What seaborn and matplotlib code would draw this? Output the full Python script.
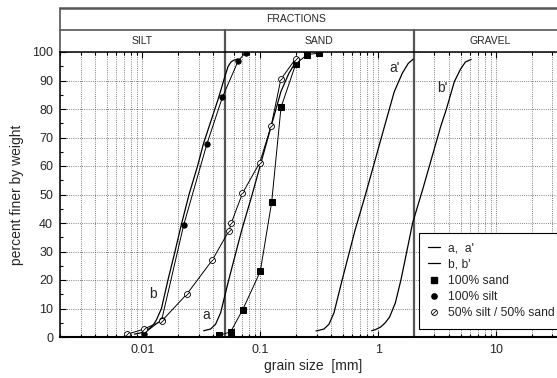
import matplotlib
matplotlib.use("Agg")
import matplotlib.pyplot as plt
import matplotlib.transforms as mtransforms
from matplotlib.lines import Line2D
from matplotlib.path import Path
from matplotlib.ticker import FixedLocator, MultipleLocator, FixedFormatter, NullFormatter
import seaborn as sns

# ---------------- data ----------------
sand_d = [0.045, 0.056, 0.071, 0.1, 0.125, 0.15, 0.2, 0.25, 0.315]
sand_p = [0.6, 1.8, 9.6, 23.0, 47.4, 80.6, 95.8, 99.1, 99.6]

silt_d = [0.0103, 0.0146, 0.0224, 0.0353, 0.0477, 0.065, 0.075]
silt_p = [1.2, 6.1, 39.3, 67.8, 84.1, 96.9, 99.8]

mix_d = [0.0074, 0.0103, 0.0146, 0.024, 0.0392, 0.0543, 0.0569, 0.0706, 0.099, 0.1236, 0.1494, 0.2]
mix_p = [0.9, 2.8, 5.6, 15.2, 27.0, 37.3, 40.1, 50.4, 61.2, 74.0, 90.4, 97.7]

a_d = [0.0331, 0.0379, 0.0418, 0.0461, 0.0539, 0.0696, 0.0847, 0.1181, 0.1494, 0.1748, 0.1966, 0.2169]
a_p = [2.2, 2.8, 4.5, 8.5, 19.9, 37.5, 49.5, 71.0, 86.0, 92.5, 96.0, 97.5]

a2_d = [0.297, 0.347, 0.383, 0.422, 0.494, 0.637, 0.775, 1.082, 1.368, 1.60, 1.80, 1.986]
a2_p = [2.1, 2.8, 4.5, 8.5, 19.9, 37.5, 49.5, 71.0, 86.0, 92.5, 96.0, 97.5]

b_d = [0.00855, 0.0098, 0.0106, 0.01147, 0.0124, 0.01315, 0.01451, 0.01648, 0.0189, 0.02127,
       0.02486, 0.02938, 0.03305, 0.0383, 0.04433, 0.04657, 0.0489, 0.0534, 0.0565, 0.0595, 0.0644]
b_p = [1.0, 1.5, 2.1, 3.0, 4.3, 6.0, 10.0, 20.0, 30.0, 39.0,
       50.0, 60.0, 68.0, 76.0, 84.0, 87.0, 90.0, 95.0, 96.5, 97.1, 97.5]

b2_d = [0.88, 0.95, 1.05, 1.15, 1.25, 1.4, 1.56, 1.75, 1.96, 2.38, 2.9, 3.4, 3.77, 4.43, 5.0, 5.5, 6.15]
b2_p = [2.2, 2.6, 3.5, 5.0, 7.0, 12.0, 20.0, 30.0, 40.0, 51.6, 64.0, 74.0, 79.6, 89.6, 94.0, 96.5, 97.4]

x_ticks = [0.01, 0.1, 1, 10]
x_ticklabels = ["0.01", "0.1", "1", "10"]
y_ticks = list(range(0, 101, 10))
fraction_bounds = [0.05, 2]
fraction_names = ["SILT", "SAND", "GRAVEL"]

# ---------------- figure ----------------
sns.set_style("ticks")
plt.rcParams["font.family"] = ["Liberation Sans", "DejaVu Sans"]

W, H = 557, 378
fig = plt.figure(figsize=(W / 100, H / 100), dpi=100)
ax = fig.add_axes([60 / W, 41 / H, (567 - 60) / W, 285 / H])
ax.set_xscale("log")
ax.set_xlim(0.002, 40)
ax.set_ylim(0, 100)

# grid
grid_kw = dict(color="#555555", lw=0.6, ls=(0, (1, 1.6)))
ax.xaxis.set_major_locator(FixedLocator(x_ticks))
ax.xaxis.set_major_formatter(FixedFormatter(x_ticklabels))
minors = [m * 10.0 ** e for e in range(-3, 2) for m in range(2, 10)]
ax.xaxis.set_minor_locator(FixedLocator(minors))
ax.xaxis.set_minor_formatter(NullFormatter())
ax.yaxis.set_major_locator(FixedLocator(y_ticks))
ax.yaxis.set_minor_locator(MultipleLocator(5))
ax.grid(True, which="major", axis="both", **grid_kw)
ax.xaxis.grid(True, which="minor", **grid_kw)
ax.set_axisbelow(True)

ax.tick_params(which="both", direction="in", top=True, right=True, color="black", width=0.8)
ax.tick_params(which="major", length=4, labelsize=9, pad=5)
ax.tick_params(which="minor", length=2)
for s in ax.spines.values():
    s.set_linewidth(1.1)
    s.set_color("black")
ax.spines["bottom"].set_linewidth(1.5)

# fraction boundary lines
trans = mtransforms.blended_transform_factory(ax.transData, ax.transAxes)
y_mid = (337 - 30) / 285
y_top = (337 - 8) / 285
for xb in fraction_bounds:
    ax.plot([xb, xb], [0, y_mid], transform=trans, color="#555555", lw=1.6, clip_on=False, zorder=1.5)
ax.plot([0, 0], [1, y_top], transform=ax.transAxes, color="#555555", lw=1.2, clip_on=False)
ax.plot([0, 1.2], [y_mid, y_mid], transform=ax.transAxes, color="#555555", lw=1.2, clip_on=False)
ax.plot([0, 1.2], [y_top, y_top], transform=ax.transAxes, color="#555555", lw=1.8, clip_on=False)

# header texts
ax.text(296 / W, 1 - 19 / H, "FRACTIONS", transform=fig.transFigure, ha="center", va="center", fontsize=7.5)
bounds = [0.002] + fraction_bounds + [40]
for i, name in enumerate(fraction_names):
    xc = (bounds[i] * bounds[i + 1]) ** 0.5
    ax.text(xc, (y_mid + 1) / 2, name, transform=trans, ha="center", va="center", fontsize=7.5)

# slashed circle marker
oslash = Path.make_compound_path(
    Path.unit_circle(),
    Path([[-0.72, -0.72], [0.72, 0.72]], [Path.MOVETO, Path.LINETO]),
)

# smooth curves
for xd, yd in [(a_d, a_p), (a2_d, a2_p), (b_d, b_p), (b2_d, b2_p)]:
    sns.lineplot(x=xd, y=yd, ax=ax, color="black", lw=0.9, sort=False, estimator=None)

# measured points
sns.lineplot(x=sand_d, y=sand_p, ax=ax, color="black", lw=0.7, sort=False, estimator=None,
             marker="s", markersize=3.8, markeredgecolor="black", markerfacecolor="black")
sns.lineplot(x=silt_d, y=silt_p, ax=ax, color="black", lw=0.7, sort=False, estimator=None,
             marker="o", markersize=3.8, markeredgecolor="black", markerfacecolor="black")
sns.lineplot(x=mix_d, y=mix_p, ax=ax, color="black", lw=0.7, sort=False, estimator=None,
             marker=oslash, markersize=4.3, markeredgecolor="black", markerfacecolor="white",
             markeredgewidth=0.6)

# curve labels
lab_kw = dict(fontsize=10, ha="center", va="center", transform=fig.transFigure)
ax.text(206.7 / W, 1 - 315 / H, "a", **lab_kw)
ax.text(153.3 / W, 1 - 294.3 / H, "b", **lab_kw)
ax.text(395 / W, 1 - 68.3 / H, "a'", **lab_kw)
ax.text(442.3 / W, 1 - 88.3 / H, "b'", **lab_kw)

ax.set_xlabel("grain size  [mm]", fontsize=10, labelpad=2)
ax.set_ylabel("percent finer by weight", fontsize=10, labelpad=6)

handles = [
    Line2D([], [], color="black", lw=0.9),
    Line2D([], [], color="black", lw=0.9),
    Line2D([], [], ls="none", marker="s", color="black", markersize=3.8),
    Line2D([], [], ls="none", marker="o", color="black", markersize=3.8),
    Line2D([], [], ls="none", marker=oslash, markersize=4.3, markeredgecolor="black",
           markerfacecolor="white", markeredgewidth=0.6),
]
labels = ["a,  a'", "b, b'", "100% sand", "100% silt", "50% silt / 50% sand"]
leg = ax.legend(handles, labels, loc="upper left", bbox_to_anchor=(419.3 / W, 1 - 233 / H),
                bbox_transform=fig.transFigure, fontsize=8.7, frameon=True, fancybox=False,
                framealpha=1, edgecolor="black", borderaxespad=0, borderpad=0.75,
                handlelength=1.0, handletextpad=0.6, labelspacing=0.36)
leg.get_frame().set_linewidth(0.8)

fig.savefig("out.png", dpi=100)
